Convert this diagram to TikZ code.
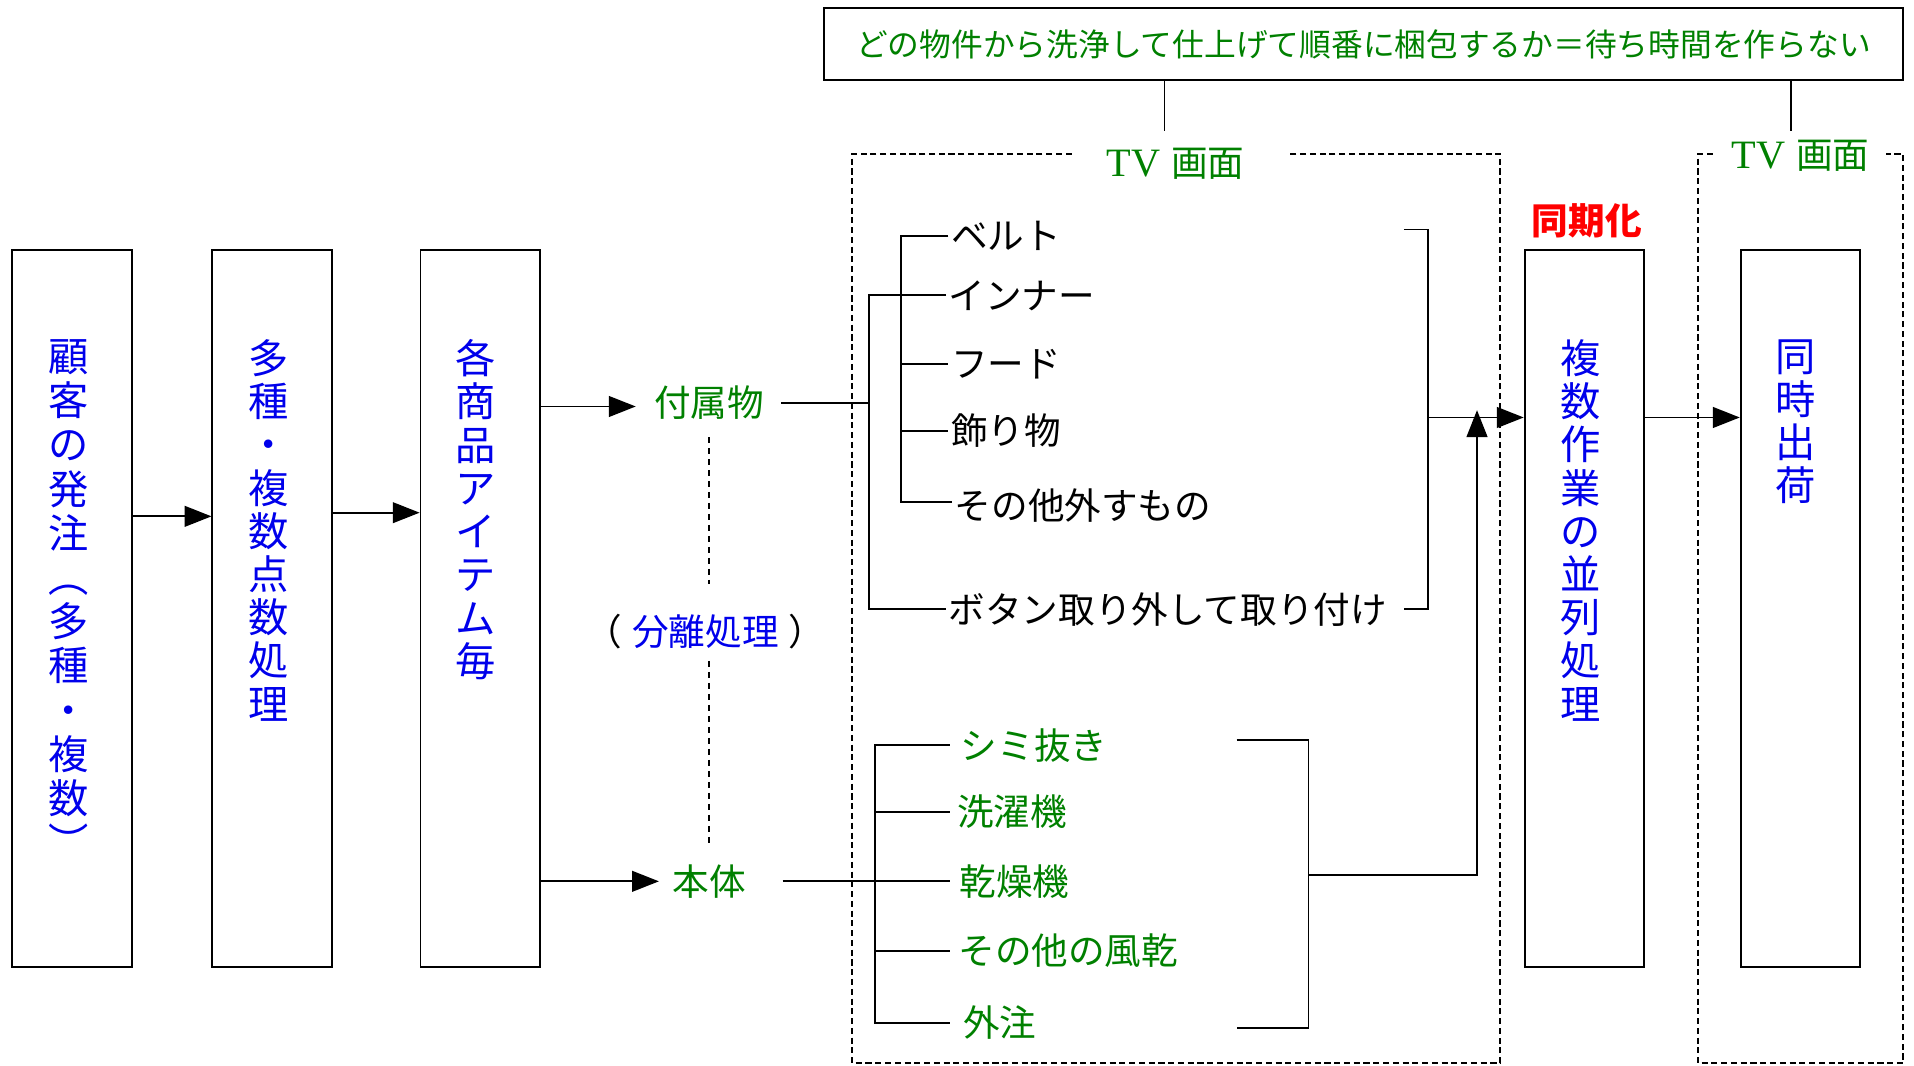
\documentclass[tikz,border=0pt]{standalone}
\usepackage{fontspec}
\setmainfont{Noto Sans CJK JP}
\newfontfamily\tvfont{Liberation Serif}
\usetikzlibrary{arrows.meta}
\definecolor{mgreen}{RGB}{0,128,0}
\definecolor{mblue}{RGB}{0,0,235}
\definecolor{mred}{RGB}{255,0,0}
\begin{document}
\begin{tikzpicture}[x=1pt,y=-1pt,
  procbox/.style={draw, line width=1.5pt, minimum width=98pt, minimum height=587pt, inner sep=0pt},
  vlab/.style={text=mblue, font=\fontsize{33}{35.4}\selectfont, align=center, inner sep=0pt, anchor=north},
  itm/.style={font=\fontsize{30}{32}\selectfont, inner sep=2pt, anchor=west},
  gitm/.style={itm, text=mgreen},
  ln/.style={line width=1.5pt},
  arr/.style={ln, -{Triangle[length=22pt,width=17pt]}},
  dbox/.style={line width=1.3pt, dash pattern=on 5pt off 3pt},
  dsh/.style={line width=1.3pt, dash pattern=on 5pt off 4pt},
  tvlab/.style={text=mgreen, inner sep=0pt}
]
\useasboundingbox (0,0) rectangle (1568,873);

% main process boxes
\node[procbox] (b1) at (59,498.5) {};
\node[procbox] (b2) at (223,498.5) {};
\node[procbox] (b3) at (393.5,498.5) {};
\node[procbox] (b4) at (1298,498.5) {};
\node[procbox] (b5) at (1475,498.5) {};

% vertical labels
\node[vlab, font=\fontsize{33}{36.2}\selectfont] (t1) at (56,278) {顧\\客\\の\\発\\注\\︵\\多\\種\\・\\複\\数\\︶};
\node[vlab] (t2) at (220,278) {多\\種\\・\\複\\数\\点\\数\\処\\理};
\node[vlab] (t3) at (390,278) {各\\商\\品\\ア\\イ\\テ\\ム\\毎};
\node[vlab] (t4) at (1295,278) {複\\数\\作\\業\\の\\並\\列\\処\\理};
\node[vlab] (t5) at (1471,278) {同\\時\\出\\荷};

% top box
\node[draw, ln, minimum width=884pt, minimum height=59pt, inner sep=0pt,
      text=mgreen, font=\fontsize{26}{28}\selectfont] (top) at (1117,36)
  {どの物件から洗浄して仕上げて順番に梱包するか＝待ち時間を作らない};
\coordinate (c1) at (954,107);
\coordinate (c2) at (1467,107);
\draw[ln] (top.south -| c1) -- (c1);
\draw[ln] (top.south -| c2) -- (c2);

% TV labels and dashed frames
\node[tvlab] (tvA) at (963,134) {{\tvfont\fontsize{33}{34}\selectfont TV}\hspace{9pt}{\fontsize{30}{32}\selectfont 画面}};
\node[tvlab] (tvB) at (1475,128) {{\tvfont\fontsize{33}{34}\selectfont TV}\hspace{9pt}{\fontsize{30}{32}\selectfont 画面}};
\draw[dbox] (878,126) -- (698,126) -- (698,871) -- (1229,871) -- (1229,126) -- (1057,126);
\draw[dbox] (1403,126) -- (1391,126) -- (1391,871) -- (1559,871) -- (1559,126) -- (1545,126);

% sync label
\node[text=mred, font=\bfseries\fontsize{30}{32}\selectfont, inner sep=0pt] (sync) at (1300,181) {同期化};

% split nodes
\node[gitm, anchor=center] (fz) at (581,330) {付属物};
\node[gitm, anchor=center] (ht) at (581,722) {本体};
\node[itm, anchor=center] (bunri) at (578,517) {（\hspace{8pt}\textcolor{mblue}{分離処理}\hspace{8pt}）};

% arrows between boxes
\draw[arr] (b1.east |- 0,423) -- (b2.west |- 0,423);
\draw[arr] (b2.east |- 0,420) -- (b3.west |- 0,420);
\draw[arr] (b3.east |- 0,333) -- ([xshift=-13pt]fz.west |- 0,333);
\draw[arr] (b3.east |- ht.west) -- ([xshift=-9pt]ht.west);

% dashed separation line
\draw[dsh] ([yshift=-12pt]fz.south) -- ([yshift=22pt]fz.south |- bunri.north);
\draw[dsh] ([yshift=-8pt]fz.south |- bunri.south) -- ([yshift=12pt]fz.south |- ht.north);

% accessory items
\node[itm] (belt) at (777,193) {ベルト};
\node[itm] (inner) at (775,242) {インナー};
\node[itm] (hood) at (777,298) {フード};
\node[itm] (kazari) at (777,353) {飾り物};
\node[itm] (sonota) at (780,414) {その他外すもの};
\node[itm] (button) at (775,499) {ボタン取り外して取り付け};

\coordinate (jA) at (712,0);
\coordinate (jB) at (738,0);
\draw[ln] ([xshift=12pt]fz.east) -- (fz.east -| jA);
\draw[ln] (inner.west) -- (inner.west -| jA) -- (button.west -| jA) -- (button.west);
\coordinate (sB) at (738,411);
\draw[ln] (belt.west) -- (belt.west -| jB) -- (sB) -- (sB -| sonota.west);
\draw[ln] (hood.west -| jB) -- (hood.west);
\draw[ln] (kazari.west -| jB) -- (kazari.west);

% right bracket of accessories
\coordinate (rb1) at (1150,188);
\coordinate (rb2) at (1150,499);
\coordinate (jC) at (1170,0);
\draw[ln] (rb1) -- (rb1 -| jC) -- (rb2 -| jC) -- (rb2);
\coordinate (m1) at (1170,342);
\draw[arr] (m1) -- (m1 -| b4.west);

% body items
\node[gitm] (shimi) at (785,611) {シミ抜き};
\node[gitm] (sentaku) at (782,665) {洗濯機};
\node[gitm] (kansou) at (784,722) {乾燥機};
\node[gitm] (fuukan) at (783,779) {その他の風乾};
\node[gitm] (gaichu) at (787,838) {外注};

\coordinate (jD) at (717,0);
\coordinate (jE) at (778,0);
\coordinate (sD1) at (717,610);
\coordinate (sD2) at (717,838);
\draw[ln] (sD1 -| jE) -- (sD1) -- (sD2) -- (sD2 -| jE);
\draw[ln] (sentaku.west -| jD) -- (sentaku.west -| jE);
\draw[ln] (fuukan.west -| jD) -- (fuukan.west -| jE);
\draw[ln] ([xshift=28pt]ht.east) -- (kansou.west -| jE);

% right bracket of body
\coordinate (lr1) at (1013,606);
\coordinate (lr2) at (1013,842);
\coordinate (jF) at (1072,0);
\draw[ln] (lr1) -- (lr1 -| jF) -- (lr2 -| jF) -- (lr2);
\coordinate (u0) at (1072,717);
\coordinate (u1) at (1210,717);
\coordinate (u2) at (1210,336);
\draw[arr] (u0) -- (u1) -- (u2);

% to shipping
\draw[arr] (b4.east |- m1) -- (b5.west |- m1);
\end{tikzpicture}
\end{document}
